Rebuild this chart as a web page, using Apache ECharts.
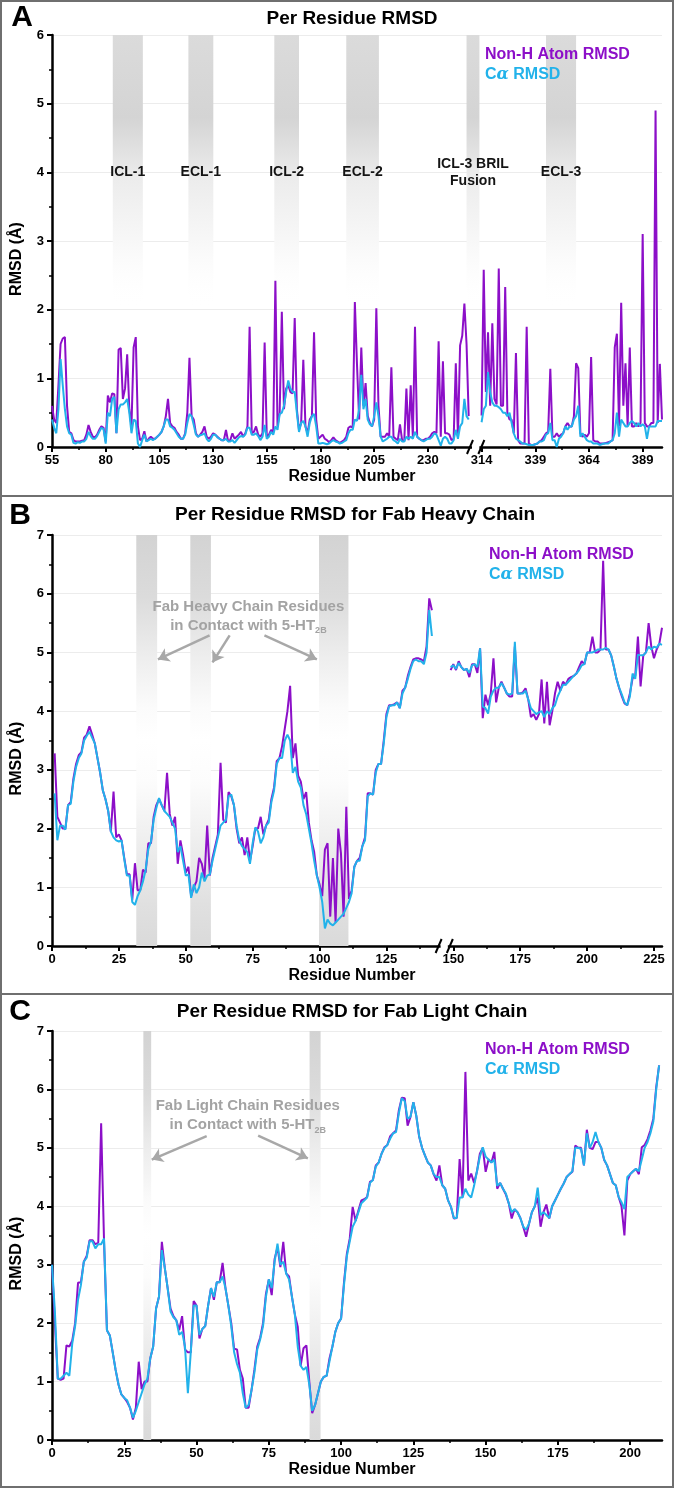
<!DOCTYPE html>
<html><head><meta charset="utf-8">
<script src="https://cdn.jsdelivr.net/npm/echarts@6/dist/echarts.min.js"></script>
<style>html,body{margin:0;padding:0;background:#fff}#c{width:677px;height:1489px}</style>
</head><body><div id="c"></div>
<script>
// ---------------- DATA ----------------
// Panel A: receptor, residues 55-249 and 314-398 (axis break between)
const A_LEFT_START = 55;
const A_RIGHT_START = 314;
const A_BREAK_SHIFT = 59; // right segment is drawn shifted left across the axis break
const A_NONH_LEFT = [
0.60,0.40,0.35,0.90,1.50,1.58,1.60,0.60,0.22,0.20,
0.10,0.08,0.08,0.08,0.09,0.10,0.18,0.32,0.22,0.15,
0.14,0.18,0.25,0.30,0.28,0.08,0.75,0.65,0.78,0.77,
0.20,1.42,1.44,0.70,0.85,1.35,0.55,0.30,1.45,1.60,
0.30,0.10,0.12,0.23,0.08,0.12,0.15,0.12,0.12,0.15,
0.18,0.22,0.30,0.45,0.70,0.35,0.30,0.28,0.22,0.18,
0.12,0.12,0.20,0.50,1.30,0.45,0.40,0.20,0.15,0.18,
0.22,0.30,0.15,0.12,0.15,0.20,0.18,0.15,0.12,0.10,
0.10,0.25,0.08,0.10,0.20,0.12,0.15,0.18,0.22,0.15,
0.20,0.30,1.75,0.20,0.22,0.30,0.18,0.15,0.20,1.52,
0.15,0.18,0.25,0.20,2.42,0.30,0.50,1.97,0.55,0.85,
0.90,0.80,0.78,1.88,0.55,0.25,0.35,1.27,0.30,0.20,
0.40,0.45,1.67,0.40,0.12,0.15,0.18,0.12,0.10,0.07,
0.10,0.14,0.10,0.08,0.06,0.08,0.10,0.15,0.28,0.30,
0.28,2.11,1.20,0.40,1.45,0.60,0.93,0.45,0.35,0.30,
0.40,2.02,0.60,0.15,0.15,0.15,0.20,0.15,1.16,0.15,
0.12,0.10,0.33,0.10,0.08,0.85,0.10,0.90,0.15,1.75,
0.15,0.12,0.10,0.10,0.12,0.12,0.15,0.20,0.22,0.20,
1.54,0.15,1.25,0.20,0.20,0.18,0.10,0.12,1.22,0.15,
1.48,1.62,2.09,1.50,0.45];
const A_CA_LEFT = [
0.40,0.28,0.20,0.55,1.28,0.90,0.55,0.30,0.20,0.18,
0.06,0.05,0.07,0.06,0.08,0.08,0.12,0.22,0.16,0.12,
0.12,0.16,0.22,0.28,0.26,0.05,0.50,0.45,0.70,0.73,
0.20,0.55,0.62,0.62,0.65,0.70,0.50,0.20,0.40,0.38,
0.05,0.00,0.10,0.18,0.08,0.10,0.12,0.10,0.12,0.15,
0.18,0.22,0.30,0.40,0.40,0.30,0.28,0.25,0.20,0.15,
0.12,0.12,0.18,0.35,0.48,0.45,0.32,0.18,0.15,0.17,
0.18,0.20,0.12,0.08,0.12,0.18,0.18,0.14,0.12,0.10,
0.10,0.12,0.08,0.08,0.10,0.06,0.10,0.14,0.16,0.15,
0.18,0.28,0.28,0.18,0.18,0.20,0.16,0.10,0.15,0.32,
0.12,0.15,0.22,0.18,0.30,0.25,0.48,0.50,0.60,0.80,
0.97,0.85,0.80,0.80,0.50,0.22,0.35,0.38,0.30,0.15,
0.35,0.45,0.48,0.30,0.05,0.05,0.06,0.05,0.04,0.05,
0.08,0.10,0.08,0.07,0.05,0.06,0.08,0.10,0.20,0.25,
0.25,0.40,0.38,0.55,1.05,0.55,0.70,0.40,0.33,0.30,
0.45,0.65,0.45,0.15,0.08,0.10,0.12,0.15,0.15,0.10,
0.08,0.05,0.12,0.08,0.08,0.15,0.12,0.15,0.12,0.22,
0.15,0.12,0.10,0.08,0.10,0.12,0.12,0.15,0.20,0.18,
0.10,0.02,0.12,0.15,0.12,0.05,0.05,0.10,0.25,0.12,
0.30,0.35,0.70,0.45,0.40];
const A_NONH_RIGHT = [
0.46,2.58,0.80,1.67,0.60,1.80,0.70,0.62,2.60,0.60,
0.60,2.33,0.50,0.40,0.40,0.20,1.37,0.10,0.05,0.05,
0.05,1.75,0.05,0.03,0.03,0.04,0.05,0.08,0.10,0.15,
0.20,0.22,1.14,0.15,0.15,0.20,0.15,0.18,0.20,0.30,
0.35,0.30,0.30,0.45,1.22,1.15,0.20,0.15,0.18,0.15,
0.20,1.31,0.10,0.08,0.08,0.05,0.05,0.05,0.06,0.07,
0.08,0.10,1.45,1.65,0.30,2.10,0.60,1.22,0.30,1.45,
0.30,0.30,0.35,0.30,0.35,3.10,0.35,0.30,0.30,0.35,
0.35,4.90,0.35,1.21,0.40];
const A_CA_RIGHT = [
0.36,0.55,0.60,1.09,0.80,0.65,0.60,0.60,0.58,0.55,
0.50,0.50,0.45,0.50,0.35,0.20,0.12,0.10,0.08,0.05,
0.05,0.04,0.03,0.03,0.03,0.04,0.05,0.08,0.08,0.10,
0.18,0.20,0.35,0.10,0.10,0.00,0.12,0.15,0.20,0.30,
0.25,0.30,0.30,0.40,0.45,0.60,0.15,0.20,0.15,0.10,
0.08,0.08,0.05,0.05,0.05,0.03,0.04,0.05,0.05,0.05,
0.08,0.10,0.20,0.50,0.15,0.40,0.35,0.30,0.30,0.35,
0.38,0.35,0.30,0.35,0.30,0.33,0.30,0.12,0.30,0.30,
0.30,0.30,0.38,0.38,0.38];
const A_TICKS = [55,80,105,130,155,180,205,230,314,339,364,389];
const A_BANDS = [['ICL-1',83.3,97.3],['ECL-1',118.5,130.1],['ICL-2',158.5,170],['ECL-2',192,207.2],['ICL-3 BRIL\nFusion',248,254],['ECL-3',344,358]];
const A_BREAK = [249.6, 254.9];

// Panel B: Fab heavy chain, residues 1-142 and 149-228
const B_LEFT_START = 1;
const B_RIGHT_START = 149;
const B_NONH_LEFT = [
3.28,2.20,2.10,2.00,2.00,2.40,2.45,2.85,3.10,3.25,
3.30,3.55,3.60,3.74,3.60,3.45,3.20,2.95,2.65,2.50,
2.30,1.95,2.63,1.85,1.90,1.80,1.50,1.22,1.22,0.78,
1.41,0.95,0.95,1.30,1.25,1.75,1.75,2.20,2.40,2.50,
2.40,2.30,2.95,2.25,2.05,2.20,1.40,1.80,1.55,1.25,
1.35,0.85,1.00,1.10,1.50,1.40,1.15,2.05,1.20,1.50,
1.70,1.90,3.12,2.15,2.10,2.62,2.55,2.40,2.00,1.75,
1.85,1.55,1.85,1.45,1.70,2.00,2.00,2.20,1.90,2.05,
2.15,2.50,2.70,3.15,3.20,3.40,3.70,4.00,4.43,3.20,
3.45,2.90,2.80,2.50,2.62,2.10,1.80,1.60,1.20,1.05,
0.85,1.64,1.75,0.50,1.50,0.40,2.00,1.58,0.50,2.37,
0.80,0.95,1.35,1.45,1.50,1.70,1.85,2.60,2.60,2.58,
3.00,3.10,3.10,3.50,3.95,4.10,4.10,4.12,4.15,4.05,
4.35,4.40,4.60,4.75,4.88,4.90,4.90,4.88,4.85,5.10,
5.92,5.72];
const B_CA_LEFT = [
2.60,1.80,2.05,2.05,1.98,2.40,2.42,2.80,3.05,3.20,
3.28,3.50,3.58,3.65,3.55,3.45,3.20,2.95,2.65,2.50,
2.30,1.95,1.85,1.80,1.78,1.80,1.48,1.20,1.20,0.75,
0.70,0.85,0.95,1.10,1.30,1.65,1.78,2.15,2.35,2.52,
2.40,2.30,2.25,2.20,2.10,2.00,1.60,1.70,1.45,1.20,
1.22,0.82,1.05,0.90,1.00,1.25,1.10,1.20,1.22,1.45,
1.65,1.85,2.05,2.10,2.15,2.55,2.58,2.40,2.05,1.80,
1.70,1.65,1.60,1.40,1.75,2.02,1.95,1.75,1.85,2.05,
2.10,2.45,2.65,3.10,3.20,3.20,3.50,3.60,3.50,2.95,
3.05,2.80,2.70,2.40,2.25,2.00,1.75,1.45,1.20,1.00,
0.75,0.30,0.45,0.38,0.35,0.40,0.45,0.50,0.55,0.65,
0.75,0.90,1.35,1.45,1.45,1.70,1.80,2.55,2.60,2.58,
2.95,3.10,3.10,3.45,3.90,4.08,4.10,4.10,4.15,4.05,
4.30,4.40,4.55,4.72,4.85,4.88,4.85,4.85,4.80,5.00,
5.72,5.28];
const B_NONH_RIGHT = [
4.70,4.80,4.70,4.85,4.75,4.70,4.72,4.58,4.80,4.80,
4.65,5.07,3.88,4.28,4.10,4.30,4.90,4.15,4.40,4.50,
4.40,4.30,4.25,4.25,5.10,4.30,4.30,4.32,4.39,4.20,
3.90,3.95,3.85,3.95,4.54,3.79,4.50,3.76,4.00,4.30,
4.50,4.35,4.50,4.45,4.55,4.58,4.60,4.64,4.75,4.85,
4.80,5.00,5.00,5.27,5.00,5.00,5.05,6.56,5.05,5.05,
4.95,4.76,4.55,4.39,4.25,4.13,4.10,4.30,4.56,4.60,
5.27,4.42,4.95,5.00,5.50,5.10,4.90,5.05,5.15,5.42];
const B_CA_RIGHT = [
4.75,4.78,4.72,4.82,4.75,4.70,4.72,4.65,4.78,4.80,
4.75,5.07,4.08,4.05,3.96,4.25,4.35,4.40,4.40,4.48,
4.40,4.30,4.28,4.30,5.18,4.30,4.30,4.30,4.35,4.20,
4.05,4.00,3.95,3.98,4.00,3.90,4.00,3.95,4.05,4.10,
4.25,4.35,4.45,4.45,4.50,4.55,4.60,4.64,4.70,4.78,
4.80,5.00,5.00,5.00,5.02,5.05,5.05,5.05,5.08,5.05,
4.95,4.76,4.55,4.40,4.28,4.15,4.10,4.25,4.64,4.55,
4.96,4.95,4.95,5.00,5.10,5.05,5.10,5.08,5.15,5.13];
const B_TICKS = [0,25,50,75,100,125,150,175,200,225];
const B_BANDS = [[31.5,39.3],[51.7,59.4],[99.8,110.8]];
const B_BREAK = [144.5, 148.7];
const B_NOTE = 'Fab Heavy Chain Residues\nin Contact with 5-HT';
const B_NOTE_AT = [73.4, 5.62];
const B_ARROWS = [[[58.9,5.29],[39.6,4.88]],[[66.4,5.29],[60.0,4.83]],[[79.4,5.29],[99.0,4.88]]];

// Panel C: Fab light chain, residues 0-210
const C_START = 0;
const C_NONH = [
3.00,2.00,1.05,1.03,1.05,1.62,1.60,1.70,2.00,2.69,
2.70,3.05,3.15,3.42,3.42,3.35,3.38,5.42,3.40,1.88,
1.79,1.50,1.20,0.95,0.78,0.72,0.65,0.55,0.35,0.55,
1.34,0.87,1.00,1.00,1.40,1.60,2.25,2.45,3.39,2.95,
2.60,2.25,2.12,2.05,1.88,2.12,1.55,1.50,1.50,2.38,
2.30,1.74,1.90,1.95,2.30,2.60,2.40,2.70,2.70,3.03,
2.60,2.30,2.00,1.56,1.55,1.20,1.05,0.55,0.55,0.85,
1.20,1.60,1.75,2.00,2.50,2.75,2.48,3.10,3.30,2.96,
3.39,2.85,2.80,2.45,2.15,1.94,1.27,1.57,1.62,1.00,
0.46,0.60,0.80,1.00,1.08,1.10,1.40,1.60,1.85,2.00,
2.08,2.70,3.19,3.45,3.99,3.75,3.93,4.10,4.12,4.16,
4.42,4.45,4.70,4.75,4.90,5.01,5.05,5.20,5.25,5.30,
5.65,5.86,5.85,5.38,5.53,5.78,5.55,5.19,5.00,4.87,
4.75,4.70,4.55,4.44,4.70,4.36,4.30,4.10,3.99,3.79,
3.80,4.81,4.15,6.30,4.44,4.56,4.40,4.60,4.90,5.00,
4.59,4.80,4.75,4.93,4.30,4.40,4.30,4.20,4.05,3.79,
3.95,3.90,3.80,3.65,3.48,3.70,3.90,4.00,4.15,3.65,
3.90,4.03,3.79,4.00,4.10,4.20,4.30,4.39,4.50,4.55,
4.59,5.04,5.00,5.00,4.70,5.31,5.00,4.98,5.10,5.10,
5.00,4.79,4.70,4.55,4.40,4.36,4.16,4.00,3.50,4.44,
4.55,4.60,4.64,4.55,5.01,5.05,5.15,5.30,5.50,6.04,6.41];
const C_CA = [
3.00,2.20,1.05,1.05,1.10,1.15,1.10,1.65,1.95,2.40,
2.65,3.05,3.12,3.40,3.40,3.28,3.35,3.35,3.45,1.88,
1.79,1.50,1.20,0.95,0.78,0.72,0.68,0.55,0.38,0.50,
0.65,0.80,0.95,1.05,1.40,1.60,2.25,2.45,3.25,2.95,
2.60,2.20,2.10,2.05,1.80,1.85,1.60,0.80,1.50,2.30,
2.30,1.80,1.90,1.95,2.30,2.60,2.45,2.70,2.70,2.80,
2.60,2.30,1.95,1.50,1.30,1.15,0.80,0.55,0.60,0.85,
1.15,1.55,1.72,1.95,2.45,2.75,2.60,3.05,3.36,3.00,
3.05,2.85,2.75,2.45,2.15,1.60,1.27,1.20,1.25,0.95,
0.50,0.60,0.80,1.00,1.08,1.10,1.35,1.60,1.85,2.00,
2.08,2.65,3.15,3.40,3.65,3.75,3.90,4.05,4.10,4.15,
4.40,4.45,4.68,4.75,4.90,5.00,5.05,5.16,5.25,5.27,
5.60,5.85,5.80,5.50,5.53,5.78,5.55,5.20,5.00,4.87,
4.75,4.70,4.55,4.50,4.50,4.36,4.30,4.10,3.99,3.80,
3.80,4.15,4.15,4.30,4.20,4.15,4.35,4.60,4.85,5.01,
4.85,4.80,4.75,4.80,4.35,4.40,4.30,4.22,4.05,3.90,
3.95,3.90,3.80,3.65,3.60,3.70,3.90,4.00,4.32,3.85,
3.90,3.85,3.80,4.00,4.10,4.20,4.30,4.39,4.50,4.55,
4.60,5.00,5.00,4.98,4.70,5.25,5.00,5.10,5.27,5.10,
5.00,4.80,4.70,4.55,4.40,4.36,4.16,4.07,3.95,4.50,
4.55,4.60,4.64,4.60,4.80,5.00,5.10,5.25,5.45,6.00,6.41];
const C_TICKS = [0,25,50,75,100,125,150,175,200];
const C_BANDS = [[31.6,34.3],[89.1,92.9]];
const C_NOTE = 'Fab Light Chain Residues\nin Contact with 5-HT';
const C_NOTE_AT = [67.7, 5.55];
const C_ARROWS = [[[53.5,5.20],[34.5,4.80]],[[71.3,5.21],[88.5,4.82]]];

const NAME_NONH = 'Non-H Atom RMSD';
const NAME_CA = 'Cα RMSD';

// ---------------- STYLE / BUILD ----------------
const PURPLE = '#8c0fc8';
const BLUE = '#22b2ea';
const FONT = '"Liberation Sans", Arial, Helvetica, sans-serif';
const mapA = r => (r > 260 ? r - A_BREAK_SHIFT : r);
const seq = (start, vals, map) => vals.map((v, i) => [map ? map(start + i) : start + i, v]);

const gradA = {type:'linear',x:0,y:0,x2:0,y2:1,colorStops:[
  {offset:0,color:'#dbdbdb'},{offset:0.3,color:'#d4d4d4'},{offset:0.52,color:'#ececec'},
  {offset:0.78,color:'#f9f9f9'},{offset:1,color:'rgba(255,255,255,0)'}]};
const gradBC = {type:'linear',x:0,y:0,x2:0,y2:1,colorStops:[
  {offset:0,color:'#d3d3d3'},{offset:0.15,color:'#dbdbdb'},{offset:0.3,color:'#eeeeee'},
  {offset:0.42,color:'#fbfbfb'},{offset:0.5,color:'#ffffff'},{offset:0.6,color:'#fcfcfc'},
  {offset:0.75,color:'#eeeeee'},{offset:0.9,color:'#e0e0e0'},{offset:1,color:'#dadada'}]};

const bold = (size, color) => ({fontFamily:FONT, fontWeight:'bold', fontSize:size, color:color || '#000'});

function xAx(gi, min, max, ticks, fmt) {
  return {type:'value', gridIndex:gi, min:min, max:max, interval:25,
    name:'Residue Number', nameLocation:'middle', nameGap:22, nameMoveOverlap:false,
    nameTextStyle:Object.assign(bold(16), {padding:[0,10,0,0]}),
    axisLine:{show:true, onZero:false, lineStyle:{color:'#000', width:2.5}},
    axisTick:{show:true, length:5, customValues:ticks, lineStyle:{color:'#000', width:2}},
    minorTick:{show:true, splitNumber:2, length:3, lineStyle:{color:'#000', width:1.5}},
    axisLabel:Object.assign(bold(13), {margin:7, customValues:ticks, formatter:fmt || (v => v)}),
    splitLine:{show:false}, minorSplitLine:{show:false}};
}
function yAx(gi, max) {
  return {type:'value', gridIndex:gi, min:0, max:max, interval:1,
    name:'RMSD (Å)', nameLocation:'middle', nameGap:27, nameMoveOverlap:false,
    nameTextStyle:Object.assign(bold(16), {padding:[0,36,0,0]}),
    axisLine:{show:true, onZero:false, lineStyle:{color:'#000', width:2.5}},
    axisTick:{show:true, length:5, lineStyle:{color:'#000', width:2}},
    minorTick:{show:true, splitNumber:2, length:3, lineStyle:{color:'#000', width:1.5}},
    axisLabel:Object.assign(bold(13), {margin:8}),
    splitLine:{show:true, lineStyle:{color:'#ececec', width:1}}, minorSplitLine:{show:false}};
}
function line(name, color, data, idx, extra) {
  return Object.assign({type:'line', name:name, xAxisIndex:idx, yAxisIndex:idx, data:data,
    showSymbol:false, symbol:'none', lineStyle:{color:color, width:2}, itemStyle:{color:color},
    emphasis:{disabled:true}, silent:true}, extra || {});
}
function note(text, at, arrows) {
  return {
    markPoint:{silent:true, symbol:'circle', symbolSize:1, itemStyle:{color:'rgba(0,0,0,0)'},
      label:Object.assign(bold(15,'#a3a3a3'), {show:true, position:'inside', lineHeight:19, align:'center',
        formatter:text + '{s|2B}', rich:{s:{fontFamily:FONT, fontWeight:'bold', fontSize:9, color:'#a3a3a3', verticalAlign:'bottom', lineHeight:15}}}),
      data:[{coord:at}]},
    markLine:{silent:true, symbol:['none','arrow'], symbolSize:11, label:{show:false},
      lineStyle:{color:'#a8a8a8', width:2.5, type:'solid'},
      data:arrows.map(a => [{coord:a[0]}, {coord:a[1]}])}
  };
}
function legend(left, top) {
  return {left:left, top:top, orient:'vertical', icon:'none', itemWidth:0, itemHeight:20, itemGap:0, padding:0,
    selectedMode:false,
    data:[{name:NAME_NONH, textStyle:{color:PURPLE}}, {name:NAME_CA, textStyle:{color:BLUE}}],
    formatter:n => (n === NAME_CA ? 'C{a|α} RMSD' : n),
    textStyle:{fontFamily:FONT, fontWeight:'bold', fontSize:16, lineHeight:20,
      rich:{a:{fontFamily:'"DejaVu Serif", serif', fontStyle:'italic', fontWeight:'bold', fontSize:16, lineHeight:20}}}};
}
const txt = (t, x, y, size, align) => ({type:'text', x:x, y:y, z:60,
  style:{text:t, align:align || 'center', verticalAlign:'middle', fill:'#000',
    font:'bold ' + size + 'px "Liberation Sans", Arial, sans-serif'}});

const baseGraphic = [
  {type:'rect', z:100, shape:{x:1, y:1, width:672, height:1486}, style:{fill:'none', stroke:'#6f6f6f', lineWidth:2}},
  {type:'line', z:100, shape:{x1:1, y1:496, x2:673, y2:496}, style:{stroke:'#6f6f6f', lineWidth:2}},
  {type:'line', z:100, shape:{x1:1, y1:994, x2:673, y2:994}, style:{stroke:'#6f6f6f', lineWidth:2}},
  txt('A', 22, 18, 30), txt('B', 20, 516, 30), txt('C', 20, 1012, 30),
  txt('Per Residue RMSD', 352, 19, 19),
  txt('Per Residue RMSD for Fab Heavy Chain', 355, 515, 19),
  txt('Per Residue RMSD for Fab Light Chain', 352, 1012, 19)
];

const option = {
  animation:false,
  backgroundColor:'#fff',
  grid:[
    {left:52, top:35, width:610, height:412, outerBoundsMode:'none'},
    {left:52, top:535, width:610, height:411, outerBoundsMode:'none'},
    {left:52, top:1031, width:610, height:409, outerBoundsMode:'none'}
  ],
  xAxis:[
    xAx(0, 55, 339, A_TICKS.map(mapA), v => (v > 250 ? v + A_BREAK_SHIFT : v)),
    xAx(1, 0, 228, B_TICKS),
    xAx(2, 0, 211, C_TICKS)
  ],
  yAxis:[yAx(0, 6), yAx(1, 7), yAx(2, 7)],
  legend:[legend(480, 45), legend(484, 545), legend(480, 1040)],
  graphic:baseGraphic,
  series:[
    line(NAME_NONH, PURPLE, seq(A_LEFT_START, A_NONH_LEFT), 0, {
      markArea:{silent:true, itemStyle:{color:gradA},
        label:Object.assign(bold(14,'#141414'), {show:true, position:'inside', lineHeight:17}),
        data:A_BANDS.map(b => [{name:b[0], xAxis:mapA(b[1]), yAxis:2}, {xAxis:mapA(b[2]), yAxis:6}])}}),
    line(NAME_NONH, PURPLE, seq(A_RIGHT_START, A_NONH_RIGHT, mapA), 0),
    line(NAME_CA, BLUE, seq(A_LEFT_START, A_CA_LEFT), 0),
    line(NAME_CA, BLUE, seq(A_RIGHT_START, A_CA_RIGHT, mapA), 0),

    line(NAME_NONH, PURPLE, seq(B_LEFT_START, B_NONH_LEFT), 1, {
      markArea:{silent:true, itemStyle:{color:gradBC}, label:{show:false},
        data:B_BANDS.map(b => [{xAxis:b[0], yAxis:0}, {xAxis:b[1], yAxis:7}])}}),
    line(NAME_NONH, PURPLE, seq(B_RIGHT_START, B_NONH_RIGHT), 1),
    line(NAME_CA, BLUE, seq(B_LEFT_START, B_CA_LEFT), 1, note(B_NOTE, B_NOTE_AT, B_ARROWS)),
    line(NAME_CA, BLUE, seq(B_RIGHT_START, B_CA_RIGHT), 1),

    line(NAME_NONH, PURPLE, seq(C_START, C_NONH), 2, {
      markArea:{silent:true, itemStyle:{color:gradBC}, label:{show:false},
        data:C_BANDS.map(b => [{xAxis:b[0], yAxis:0}, {xAxis:b[1], yAxis:7}])}}),
    line(NAME_CA, BLUE, seq(C_START, C_CA), 2, note(C_NOTE, C_NOTE_AT, C_ARROWS))
  ]
};

const chart = echarts.init(document.getElementById('c'), null, {renderer:'canvas', width:677, height:1489});
chart.setOption(option);

// axis-break marks ("//") placed through the axis scales
function breakMarks(gi, range) {
  const p1 = chart.convertToPixel({gridIndex:gi}, [range[0], 0]);
  const p2 = chart.convertToPixel({gridIndex:gi}, [range[1], 0]);
  const out = [{type:'rect', z:90, shape:{x:p1[0] + 2, y:p1[1] - 4, width:p2[0] - p1[0] - 4, height:8}, style:{fill:'#fff'}}];
  [p1, p2].forEach(p => out.push({type:'line', z:91,
    shape:{x1:p[0] - 3, y1:p[1] + 7, x2:p[0] + 3, y2:p[1] - 7}, style:{stroke:'#000', lineWidth:2}}));
  return out;
}
chart.setOption({graphic: baseGraphic.concat(breakMarks(0, A_BREAK), breakMarks(1, B_BREAK))});
</script>
</body></html>
